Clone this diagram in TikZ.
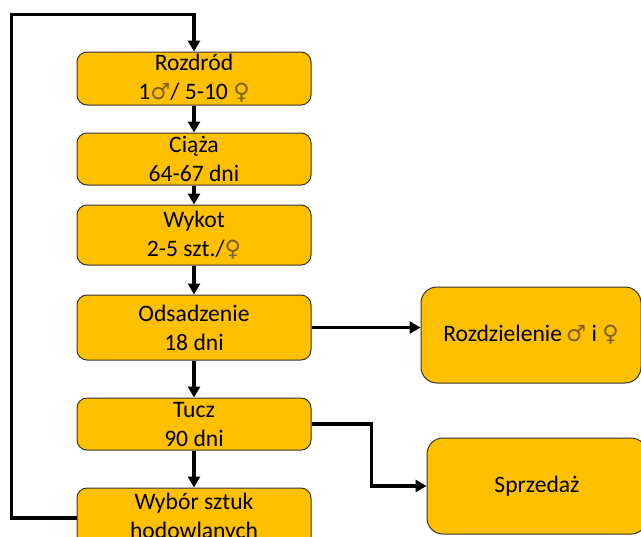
\documentclass[tikz,border=0pt]{standalone}
\usepackage{fontspec}
\setmainfont{Carlito}
\newfontfamily\symfont[Scale=0.95]{DejaVu Sans}
\usepackage{tikz}
\usetikzlibrary{positioning,arrows.meta}
\definecolor{gold}{RGB}{255,192,0}
\definecolor{symbrown}{RGB}{125,95,35}
\newcommand{\samiec}{{\symfont\color{symbrown}♂}}
\newcommand{\samica}{{\symfont\color{symbrown}♀}}
\tikzset{
  box/.style={draw=black!80,line width=0.5pt,fill=gold,rounded corners=5pt,align=center,
    font=\fontsize{11.8}{14.5}\selectfont,minimum width=117pt,inner xsep=2pt,inner ysep=0pt},
  sidebox/.style={box,rounded corners=8pt,minimum width=110pt,minimum height=48pt},
  flow/.style={-{Triangle[length=5.5pt,width=6pt]},line width=1.7pt},
}
\begin{document}
\begin{tikzpicture}[on grid]
  \useasboundingbox (0,0) rectangle (320.5pt,-268pt);
  \node[box,minimum height=26.5pt] (rozdrod) at (97pt,-39.25pt) {Rozdród\\1\samiec/ 5-10 \samica};
  \node[box,minimum height=26pt,below=40.25pt of rozdrod] (ciaza) {Ciąża\\64-67 dni};
  \node[box,minimum height=30pt,below=38pt of ciaza] (wykot) {Wykot\\2-5 szt./\samica};
  \node[box,minimum height=32.5pt,below=46.25pt of wykot] (odsadz) {Odsadzenie\\18 dni};
  \node[box,minimum height=26pt,below=48.25pt of odsadz] (tucz) {Tucz\\90 dni};
  \node[box,minimum height=30pt,below=47pt of tucz] (wybor) {Wybór sztuk\\hodowlanych};
  \node[sidebox,right=168.5pt of odsadz,yshift=-3.75pt] (rozdz) {Rozdzielenie\,\samiec\ i \samica};
  \node[sidebox,below=75.5pt of rozdz,xshift=3pt] (sprzed) {Sprzedaż};
  \draw[flow] (rozdrod)--(ciaza); \draw[flow] (ciaza)--(wykot); \draw[flow] (wykot)--(odsadz);
  \draw[flow] (odsadz)--(tucz); \draw[flow] (tucz)--(wybor);
  \draw[flow] (odsadz.east)--(odsadz.east -| rozdz.west);
  \draw[flow] (tucz.east)--++(30pt,0) |- (sprzed.west);
  \draw[flow] (wybor.west) -| ([xshift=-32.5pt,yshift=18.5pt]rozdrod.north west) -| (rozdrod.north);
\end{tikzpicture}
\end{document}
